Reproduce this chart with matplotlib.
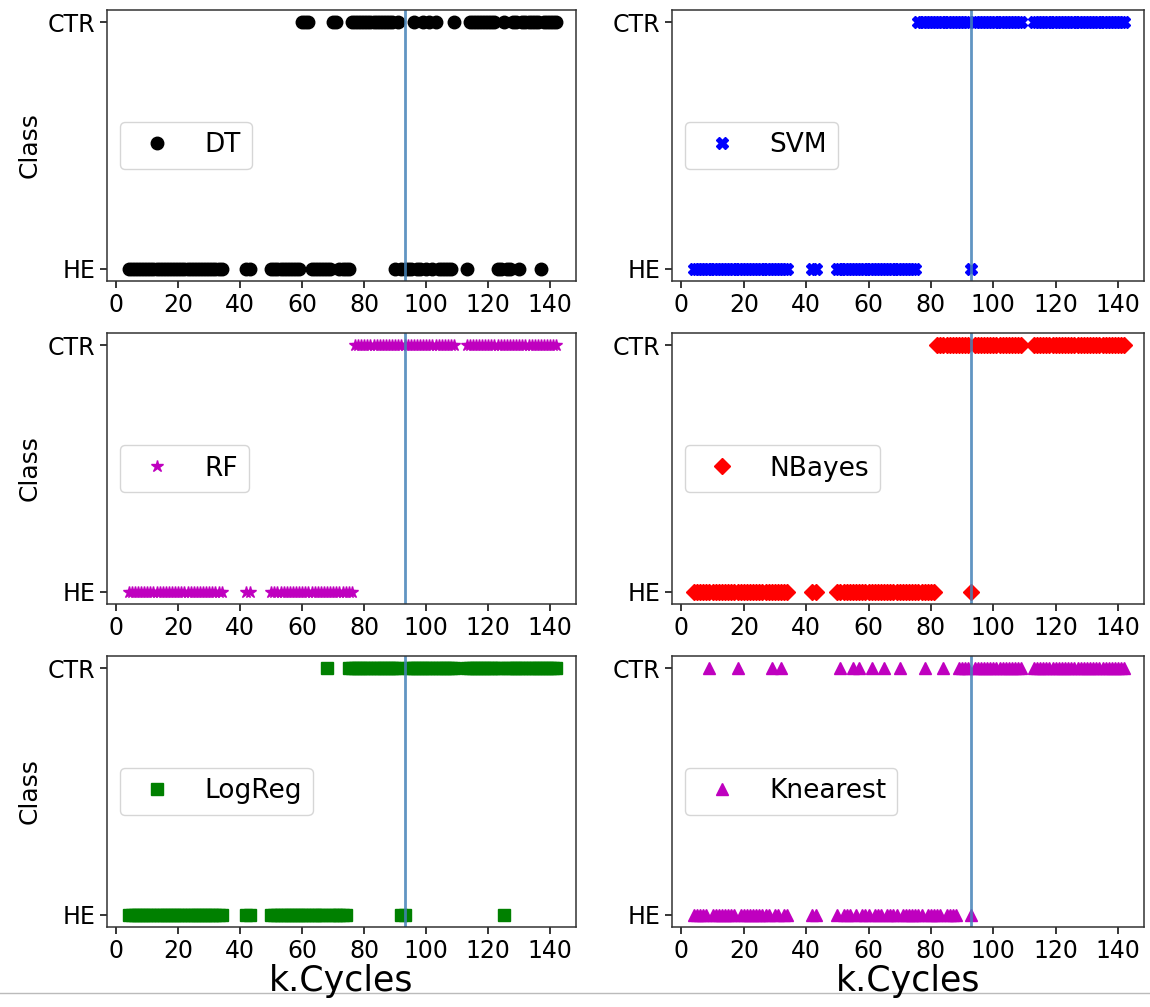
import matplotlib
matplotlib.use("Agg")
import matplotlib.pyplot as plt
from matplotlib.lines import Line2D

# sampled cycles (k.Cycles)
cycles = [4, 5, 6, 7, 8, 9, 10, 11, 12, 13, 14, 15, 16, 17, 18, 19, 20, 21, 22, 23,
          24, 25, 26, 27, 28, 29, 30, 31, 32, 33, 34,
          42, 43,
          50, 51, 52, 53, 54, 55, 56, 57, 58, 59, 60, 61, 62, 63, 64, 65, 66, 67, 68, 69,
          70, 71, 72, 73, 74, 75, 76, 77, 78, 79, 80, 81, 82, 83, 84, 85, 86, 87, 88, 89,
          90, 91, 92, 93, 94, 95, 96, 97, 98, 99, 100, 101, 102, 103, 104, 105, 106, 107, 108, 109,
          113, 114, 115, 116, 117, 118, 119, 120, 121, 122, 123, 124, 125, 126, 127, 128, 129, 130,
          131, 132, 133, 134, 135, 136, 137, 138, 139, 140, 141, 142]

class_labels = ['HE', 'CTR']
failure_cycle = 93

# predicted class per cycle (0 = HE, 1 = CTR), groups: 4-34 | 42-43 | 50-109 | 113-142
pred_dt = ("0000000000000000000000000000000 00 "
           "000000000011100000001100001111111111111101000010010101000001 "
           "011111111100100110111111011111")
pred_svm = ("0000000000000000000000000000000 00 "
            "000000000000000000000000001111111111111111101111111111111111 "
            "111111111111111111111111111111")
pred_rf = ("0000000000000000000000000000000 00 "
           "000000000000000000000000000111111111111111111111111111111111 "
           "111111111111111111111111111111")
pred_nb = ("0000000000000000000000000000000 00 "
           "000000000000000000000000000000001111111111101111111111111111 "
           "111111111111111111111111111111")
pred_lr = ("0000000000000000000000000000000 00 "
           "000000000000000000100000011111111111111111001111111111111111 "
           "111111111111011111111111111111")
pred_knn = ("0000010000000010000000000100100 00 "
            "010001010001000100001000000010000010000111101111111111111111 "
            "111111111111111111111111111111")

names = ['DT', 'SVM', 'RF', 'NBayes', 'LogReg', 'Knearest']
preds = [pred_dt, pred_svm, pred_rf, pred_nb, pred_lr, pred_knn]
markers = ['o', 'X', '*', 'D', 's', '^']
colors = ['k', 'b', 'm', 'r', 'g', 'm']
msizes = [9, 9, 9, 8, 9, 9]

fig = plt.figure(figsize=(11.5, 10.07), dpi=100)
W, H = 1150.0, 1007.0
cols = [(107, 469), (672, 472)]
rows = [(10, 281), (333, 604), (656, 927)]

for k in range(6):
    r, c = k // 2, k % 2
    x0, w = cols[c]
    top, bot = rows[r]
    ax = fig.add_axes([x0 / W, 1 - bot / H, w / W, (bot - top) / H])
    flags = [int(ch) for ch in preds[k].replace(' ', '')]
    assert len(flags) == len(cycles)
    ax.plot(cycles, flags, linestyle='none', marker=markers[k], color=colors[k],
            markersize=msizes[k], label=names[k])
    ax.axvline(failure_cycle, color='#4583b8', lw=2, alpha=0.85)
    ax.set_xlim(-3, 148.3)
    ax.set_ylim(-0.05, 1.05)
    ax.set_yticks([0, 1])
    ax.set_yticklabels(class_labels)
    ax.set_xticks(range(0, 141, 20))
    ax.tick_params(labelsize=17, length=5, width=1.1)
    for s in ax.spines.values():
        s.set_linewidth(1.1)
        s.set_color('#333333')
    ax.legend(loc='center left', fontsize=19)
    if c == 0:
        ax.set_ylabel('Class', fontsize=18)
    if r == 2:
        ax.set_xlabel('k.Cycles', fontsize=25, labelpad=1)

fig.add_artist(Line2D([0, 1], [1 - 993 / H, 1 - 993 / H], color='#bbbbbb', lw=1, zorder=0))

plt.savefig('out.png', dpi=100)
